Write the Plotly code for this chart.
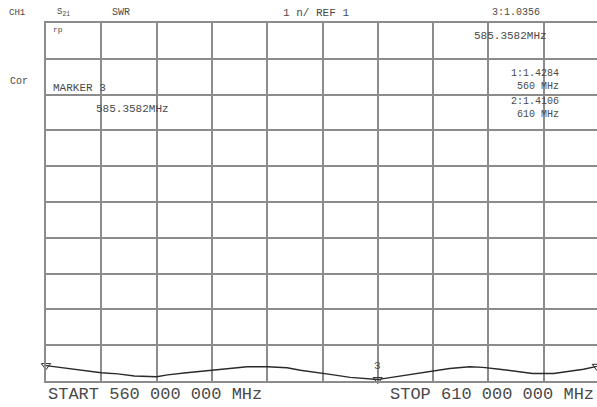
import plotly.graph_objects as go

# ---- data ----
freq_mhz = [560, 562, 563.5, 565, 566.5, 568, 570, 571, 572.7, 574.5, 576.3, 578.2,
            580, 581.8, 583, 584.8, 586, 587.5, 589, 590, 590.8, 592, 593.5, 595,
            596.5, 598.3, 599.5, 601, 602.5, 604, 605.9, 607, 608.6, 609.8]
swr = [1.43, 1.35, 1.29, 1.23, 1.20, 1.14, 1.12, 1.17, 1.23, 1.29, 1.35, 1.40,
       1.40, 1.37, 1.30, 1.23, 1.17, 1.10, 1.06, 1.04, 1.08, 1.14, 1.21, 1.29,
       1.35, 1.40, 1.38, 1.33, 1.26, 1.21, 1.21, 1.26, 1.33, 1.41]

marker_freq = [560, 590, 609.8]
marker_swr = [1.43, 1.04, 1.41]
active_marker_freq = 590
active_marker_swr = 1.04
active_marker_label = "3"

x_range = [560, 609.82]
y_range = [1, 11]

W, H = 597, 407
L, R, T, B = 46, 0, 23, 26
PW, PH = W - L - R, H - T - B

GRID = "#8c8c8c"
TXT = "#4a4a4a"
MONO = "Liberation Mono, DejaVu Sans Mono, monospace"


def px(x):
    return (x - L) / PW


def py(y):
    return (H - B - y) / PH


fig = go.Figure()
fig.add_trace(go.Scatter(x=freq_mhz, y=swr, mode="lines",
                         line=dict(color="#2a2a2a", width=1.4),
                         hoverinfo="skip", cliponaxis=False))
fig.add_trace(go.Scatter(x=marker_freq, y=marker_swr, mode="markers",
                         marker=dict(symbol="triangle-down-open", size=8,
                                     color="#2a2a2a", line=dict(width=1)),
                         hoverinfo="skip", cliponaxis=False))
fig.add_annotation(x=active_marker_freq, y=active_marker_swr, xref="x", yref="y",
                   text=active_marker_label, showarrow=False, yshift=14,
                   font=dict(family=MONO, size=11, color=TXT))

annos = [
    ("CH1", 7, 13, "left", 9),
    ("S<sub>21</sub>", 55, 13, "left", 9),
    ("SWR", 110, 13, "left", 10),
    ("1 n/ REF 1", 281, 13, "left", 11),
    ("3:1.0356", 490, 13, "left", 10),
    ("rp", 51, 29, "left", 8),
    ("585.3582MHz", 472, 36, "left", 11),
    ("Cor", 8, 81, "left", 10),
    ("MARKER 3", 51, 88, "left", 11),
    ("585.3582MHz", 94, 109, "left", 11),
    ("1:1.4284", 561, 73, "right", 10),
    ("560 MHz", 561, 86, "right", 10),
    ("2:1.4106", 561, 101, "right", 10),
    ("610 MHz", 561, 114, "right", 10),
    ("START 560 000 000 MHz", 46, 395, "left", 17),
    ("STOP 610 000 000 MHz", 596, 395, "right", 17),
]
for txt, x, y, anchor, size in annos:
    fig.add_annotation(text=txt, xref="paper", yref="paper", x=px(x), y=py(y),
                       xanchor=anchor, yanchor="middle", showarrow=False,
                       font=dict(family=MONO, size=size, color=TXT))

fig.update_layout(
    width=W, height=H,
    margin=dict(l=L, r=R, t=T, b=B),
    paper_bgcolor="white", plot_bgcolor="white",
    showlegend=False,
    xaxis=dict(range=x_range, tick0=560, dtick=5, showgrid=True, gridcolor=GRID,
               gridwidth=1.5, showticklabels=False, ticks="", zeroline=False,
               showline=True, mirror=True, linecolor=GRID, linewidth=1.5),
    yaxis=dict(range=y_range, tick0=1, dtick=1, showgrid=True, gridcolor=GRID,
               gridwidth=1.5, showticklabels=False, ticks="", zeroline=False,
               showline=True, mirror=False, linecolor=GRID, linewidth=1.5),
)

fig.write_html("out.html", config={"displayModeBar": False},
               post_script="document.body.style.margin='0';document.body.style.overflow='hidden';")
